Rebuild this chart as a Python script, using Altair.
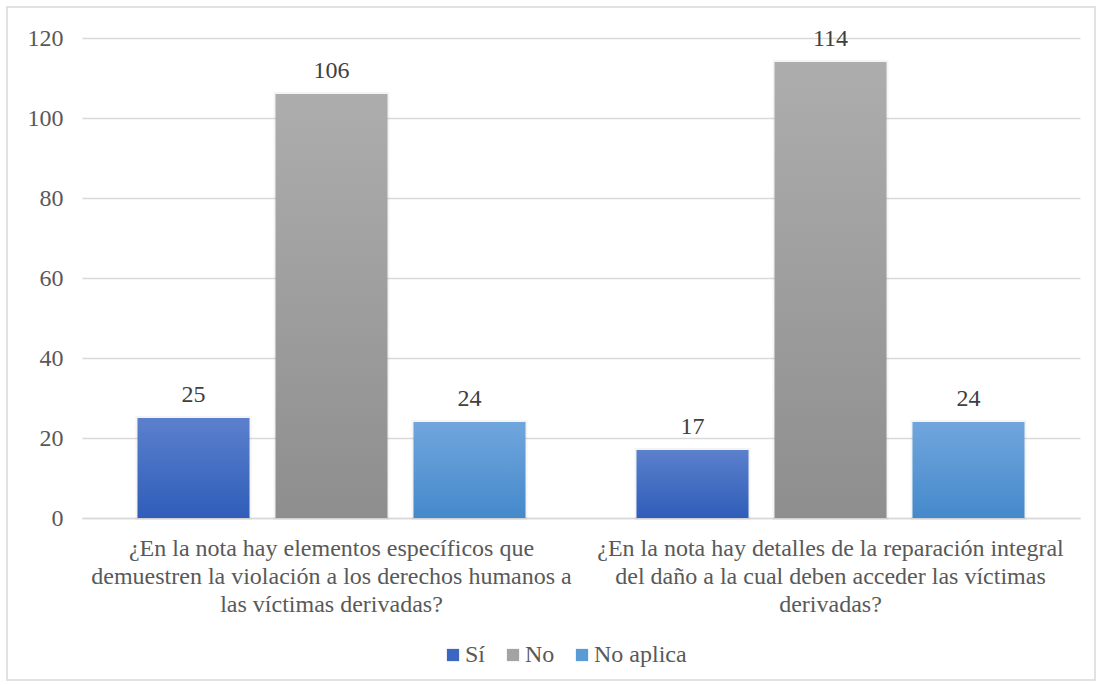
import altair as alt
import pandas as pd

# Preguntas (líneas separadas por "|"), series y valores
preguntas = [
    "¿En la nota hay elementos específicos que|demuestren la violación a los derechos humanos a|las víctimas derivadas?",
    "¿En la nota hay detalles de la reparación integral|del daño a la cual deben acceder las víctimas|derivadas?",
]
series = ["Sí", "No", "No aplica"]
valores_si = [25, 17]
valores_no = [106, 114]
valores_na = [24, 24]

colores_leyenda = ["#3b66c2", "#a3a3a3", "#5b9bd5"]
gradientes = {
    "Sí": ("#5b80cd", "#2f5db9"),
    "No": ("#adadad", "#8e8e8e"),
    "No aplica": ("#70a6dd", "#4589cb"),
}

filas = []
for serie, vals in zip(series, [valores_si, valores_no, valores_na]):
    for p, v in zip(preguntas, vals):
        filas.append({"pregunta": p, "serie": serie, "valor": v})
df = pd.DataFrame(filas)

FUENTE = "Liberation Serif"
GRIS_TXT = "#595959"
TAM = 24

x_enc = alt.X(
    "pregunta:N",
    sort=preguntas,
    scale=alt.Scale(paddingInner=0, paddingOuter=0),
    axis=alt.Axis(
        title=None,
        labelAngle=0,
        labelExpr="split(datum.label, '|')",
        labelFont=FUENTE,
        labelFontSize=TAM,
        labelColor=GRIS_TXT,
        labelLineHeight=28,
        labelPadding=18,
        labelLimit=0,
        ticks=False,
        domainColor="#d9d9d9",
        domainWidth=1.5,
    ),
)
xo_enc = alt.XOffset(
    "serie:N", sort=series, scale=alt.Scale(paddingInner=0.188, paddingOuter=0.402)
)
y_enc = alt.Y(
    "valor:Q",
    scale=alt.Scale(domain=[0, 120]),
    axis=alt.Axis(
        title=None,
        values=[0, 20, 40, 60, 80, 100, 120],
        domain=False,
        ticks=False,
        gridColor="#d9d9d9",
        gridWidth=1.5,
        labelFont=FUENTE,
        labelFontSize=TAM,
        labelColor=GRIS_TXT,
        labelPadding=19,
    ),
)

base = alt.Chart(df).encode(x=x_enc, xOffset=xo_enc, y=y_enc)

# Halo suave alrededor de cada barra (sombra)
sombra = base.mark_bar(
    fill="#000000", fillOpacity=0, stroke="#000000", strokeOpacity=0.045, strokeWidth=4
)

capas = []
for serie in series:
    top, bottom = gradientes[serie]
    capas.append(
        base.transform_filter(alt.datum.serie == serie).mark_bar(
            color=alt.Gradient(
                gradient="linear",
                stops=[
                    alt.GradientStop(color=top, offset=0),
                    alt.GradientStop(color=bottom, offset=1),
                ],
                x1=0, x2=0, y1=0, y2=1,
            )
        )
    )

etiquetas = base.mark_text(
    baseline="bottom", dy=-11, font=FUENTE, fontSize=TAM, color="#404040"
).encode(text="valor:Q")

leyenda = base.mark_square(opacity=0, size=10).encode(
    color=alt.Color(
        "serie:N",
        sort=series,
        scale=alt.Scale(domain=series, range=colores_leyenda),
        legend=alt.Legend(
            title=None,
            orient="none",
            direction="horizontal",
            legendX=359,
            legendY=605,
            symbolType="square",
            symbolOpacity=1,
            symbolSize=150,
            symbolStrokeWidth=0,
            labelFont=FUENTE,
            labelFontSize=TAM,
            labelColor=GRIS_TXT,
            labelOffset=0,
            columnPadding=15,
        ),
    )
)

marco = alt.Chart(alt.Data(values=[{}])).mark_rect(
    filled=False, stroke="#d9d9d9", strokeWidth=1.5
).encode(x=alt.value(-75), x2=alt.value(1013), y=alt.value(-31), y2=alt.value(642))

chart = (
    alt.layer(marco, sombra, *capas, etiquetas, leyenda)
    .properties(
        width=998,
        height=480,
        autosize=alt.AutoSizeParams(type="none"),
        padding={"left": 82, "top": 38, "right": 22, "bottom": 167},
        background="white",
    )
    .configure(font=FUENTE)
    .configure_view(stroke=None)
)

chart.save("out.html", embed_options={"renderer": "svg", "actions": False})
